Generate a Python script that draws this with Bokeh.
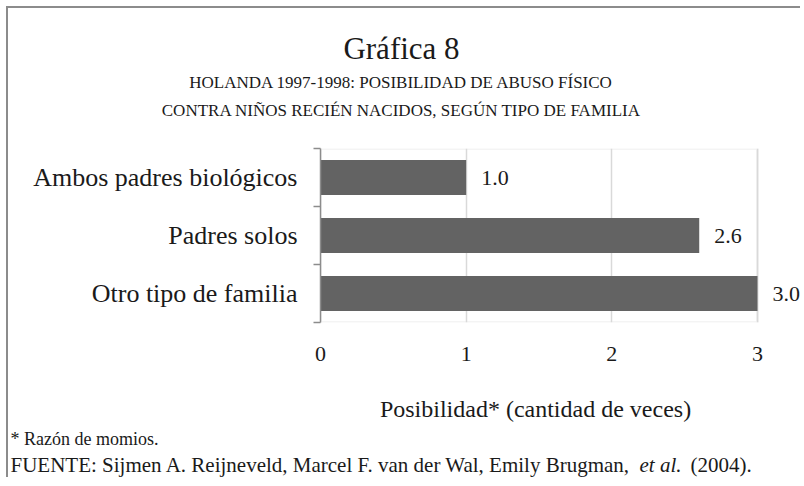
from bokeh.plotting import figure
from bokeh.models import Range1d, FixedTicker, ColumnDataSource, LabelSet, BoxAnnotation
from bokeh.core.properties import value
from bokeh.embed import file_html
from bokeh.resources import INLINE

# ---- data ----
categories = ["Ambos padres biológicos", "Padres solos", "Otro tipo de familia"]
values = [1.0, 2.6, 3.0]
x_ticks = [0, 1, 2, 3]
title_text = "Gráfica 8"
subtitle_1 = "HOLANDA 1997-1998: POSIBILIDAD DE ABUSO FÍSICO"
subtitle_2 = "CONTRA NIÑOS RECIÉN NACIDOS, SEGÚN TIPO DE FAMILIA"
x_label = "Posibilidad*  (cantidad de veces)"
note_1 = "* Razón de momios."
source_a = "FUENTE: Sijmen A. Reijneveld, Marcel F. van der Wal, Emily Brugman,"
source_b = "et al."
source_c = "(2004)."

FONT = "Liberation Serif"
TXT = "#1a1a1a"
BORDER = "2px solid #8c8c8c"
W = 794
H_HEAD, H_MAIN, H_FOOT = 141, 230, 100


def text_panel(h):
    f = figure(width=W, height=h, output_backend="svg", toolbar_location=None,
               x_range=Range1d(0, W), y_range=Range1d(0, h),
               min_border_left=0, min_border_right=0,
               min_border_top=0, min_border_bottom=0)
    f.axis.visible = False
    f.grid.visible = False
    f.outline_line_color = None
    f.border_fill_color = "white"
    return f


def put(f, txt, x, y, size, align="left", style="normal"):
    f.text(x=[x], y=[y], text=[txt], text_font=value(FONT), text_font_size=size,
           text_align=align, text_baseline="alphabetic", text_color=TXT,
           text_font_style=style)


# ---- header ----
head = text_panel(H_HEAD)
head.styles = {"border-left": BORDER, "border-top": BORDER,
               "margin-left": "6px", "margin-top": "6px"}
put(head, title_text, 393, 101, "31px", "center")
put(head, subtitle_1, 393, 67, "17px", "center")
put(head, subtitle_2, 393, 39, "17px", "center")

# ---- main chart ----
n = len(categories)
ypos = [n - 0.5 - i for i in range(n)]
src = ColumnDataSource(dict(y=ypos, v=values, lab=[f"{v:.1f}" for v in values]))

FL, FR = 312, 749          # frame pixel edges for x = 0 .. 3
x_end = x_ticks[-1] * (W - FL) / (FR - FL)

p = figure(width=W, height=H_MAIN, output_backend="svg", toolbar_location=None,
           x_range=Range1d(0, x_end), y_range=Range1d(0, n),
           min_border_left=FL, min_border_right=0,
           min_border_top=1, min_border_bottom=H_MAIN - 175)
p.styles = {"border-left": BORDER, "margin-left": "6px"}
p.border_fill_color = "white"
p.outline_line_color = None

p.hbar(y="y", right="v", left=0, height=0.6, source=src,
       fill_color="#636363", line_color=None)

p.add_layout(BoxAnnotation(left=x_ticks[0], right=x_ticks[-1], bottom=0, top=n,
                           fill_color=None, line_color="#d9d9d9", line_width=3,
                           level="underlay"))

p.add_layout(LabelSet(x="v", y="y", text="lab", source=src, x_offset=15,
                      text_baseline="middle", text_font=FONT,
                      text_font_size="22px", text_color=TXT))

xa = p.xaxis[0]
xa.ticker = FixedTicker(ticks=x_ticks)
xa.axis_line_color = None
xa.major_tick_line_color = None
xa.minor_tick_line_color = None
xa.major_label_text_font = FONT
xa.major_label_text_font_size = "22px"
xa.major_label_text_color = TXT
xa.major_label_standoff = 18

ya = p.yaxis[0]
ya.ticker = FixedTicker(ticks=ypos, minor_ticks=list(range(n + 1)))
ya.major_label_overrides = {y: c for y, c in zip(ypos, categories)}
ya.axis_line_color = "#8c8c8c"
ya.axis_line_width = 1.5
ya.major_tick_line_color = None
ya.minor_tick_line_color = "#8c8c8c"
ya.minor_tick_line_width = 1.5
ya.minor_tick_out = 7
ya.minor_tick_in = 0
ya.major_label_text_font = FONT
ya.major_label_text_font_size = "26px"
ya.major_label_text_color = TXT
ya.major_label_standoff = 16

p.xgrid.grid_line_color = "#d9d9d9"
p.xgrid.grid_line_width = 1.5
p.xgrid.ticker = FixedTicker(ticks=x_ticks[1:])
p.ygrid.grid_line_color = None

# ---- footer ----
foot = text_panel(H_FOOT)
foot.styles = {"border-left": BORDER, "margin-left": "6px"}
put(foot, x_label, 530, 69, "24px", "center")
put(foot, note_1, 2, 39, "18px")
put(foot, source_a, 2, 13, "21px")
put(foot, source_b, 631, 13, "21px", style="italic")
put(foot, source_c, 682, 13, "21px")

open("out.html", "w").write(file_html([head, p, foot], INLINE))
